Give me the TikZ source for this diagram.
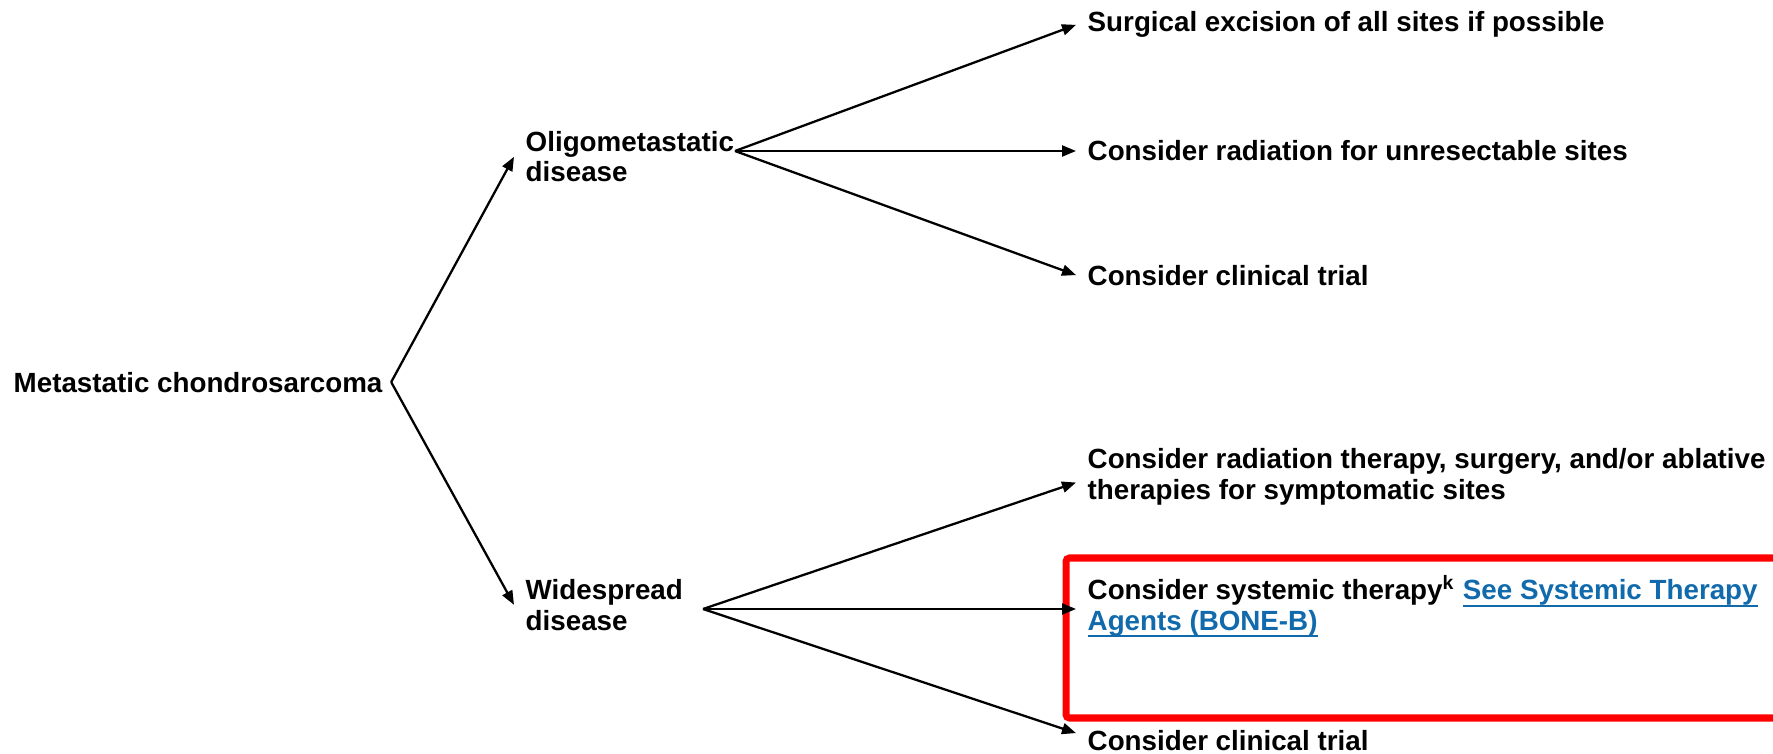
\documentclass[tikz,border=0pt]{standalone}
\usepackage{fontspec}
\setmainfont{Liberation Sans}
\usepackage{tikz}
\usetikzlibrary{arrows.meta, positioning}
\definecolor{cLink}{RGB}{16,106,172}
\definecolor{cMark}{RGB}{255,0,0}
\newcommand{\linkul}[1]{\setbox0\hbox{#1}\rlap{\rule[-0.26em]{\wd0}{0.075em}}\box0}
\tikzset{
    stage/.style    ={anchor=base west, align=left, inner xsep=1.1mm, inner ysep=0pt},
    flowarrow/.style={-{Triangle[length=1.4mm, width=1.1mm]}, line width=0.65pt},
    highlight/.style={draw=cMark, line width=2pt, rounded corners=1pt},
}
\begin{document}
\begin{tikzpicture}[font=\fontsize{7.9}{8.7}\selectfont\bfseries]
    \useasboundingbox (0,0) rectangle (17.73,7.53);
    \clip (0,0) rectangle (17.73,7.53);
    % highlighted option
    \draw[highlight] (10.66,1.95) rectangle (18.2,0.35);
    \node[stage, inner xsep=0.8mm] (root) at (0.05,3.61) {Metastatic chondrosarcoma};
    \node[stage] (oligo) at (5.14,5.71) {Oligometastatic\\disease};
    \node[stage] (wide) at (5.14,1.23) {Widespread\\disease};
    \coordinate (oligoFork) at (7.35,6.02);
    \coordinate (wideFork) at (7.03,1.44);
    % oligometastatic options
    \node[stage] (surg) at (10.76,7.21) {Surgical excision of all sites if possible};
    \node[stage] (unres) at (10.76,5.92) {Consider radiation for unresectable sites};
    \node[stage] (trialO) at (10.76,4.68) {Consider clinical trial};
    % widespread options
    \node[stage] (radW) at (10.76,2.54) {Consider radiation therapy, surgery, and/or ablative\\therapies for symptomatic sites};
    \node[stage] (sysW) at (10.76,1.23) {Consider systemic therapy\textsuperscript{k} {\color{cLink}\linkul{See Systemic Therapy}}\\{\color{cLink}\linkul{Agents (BONE-B)}}};
    \node[stage] (trialW) at (10.76,0.03) {Consider clinical trial};
    \draw[flowarrow] (root.east) -- (oligo.west);
    \draw[flowarrow] (root.east) -- (wide.west);
    \draw[flowarrow] (oligoFork) -- (surg.west);
    \draw[flowarrow] (oligoFork) -- (oligoFork -| unres.west);
    \draw[flowarrow] (oligoFork) -- (trialO.west);
    \draw[flowarrow] (wideFork) -- ([yshift=-0.6mm]radW.west);
    \draw[flowarrow] (wideFork) -- (wideFork -| sysW.west);
    \draw[flowarrow] (wideFork) -- ([yshift=0.7mm]trialW.west);
\end{tikzpicture}
\end{document}
